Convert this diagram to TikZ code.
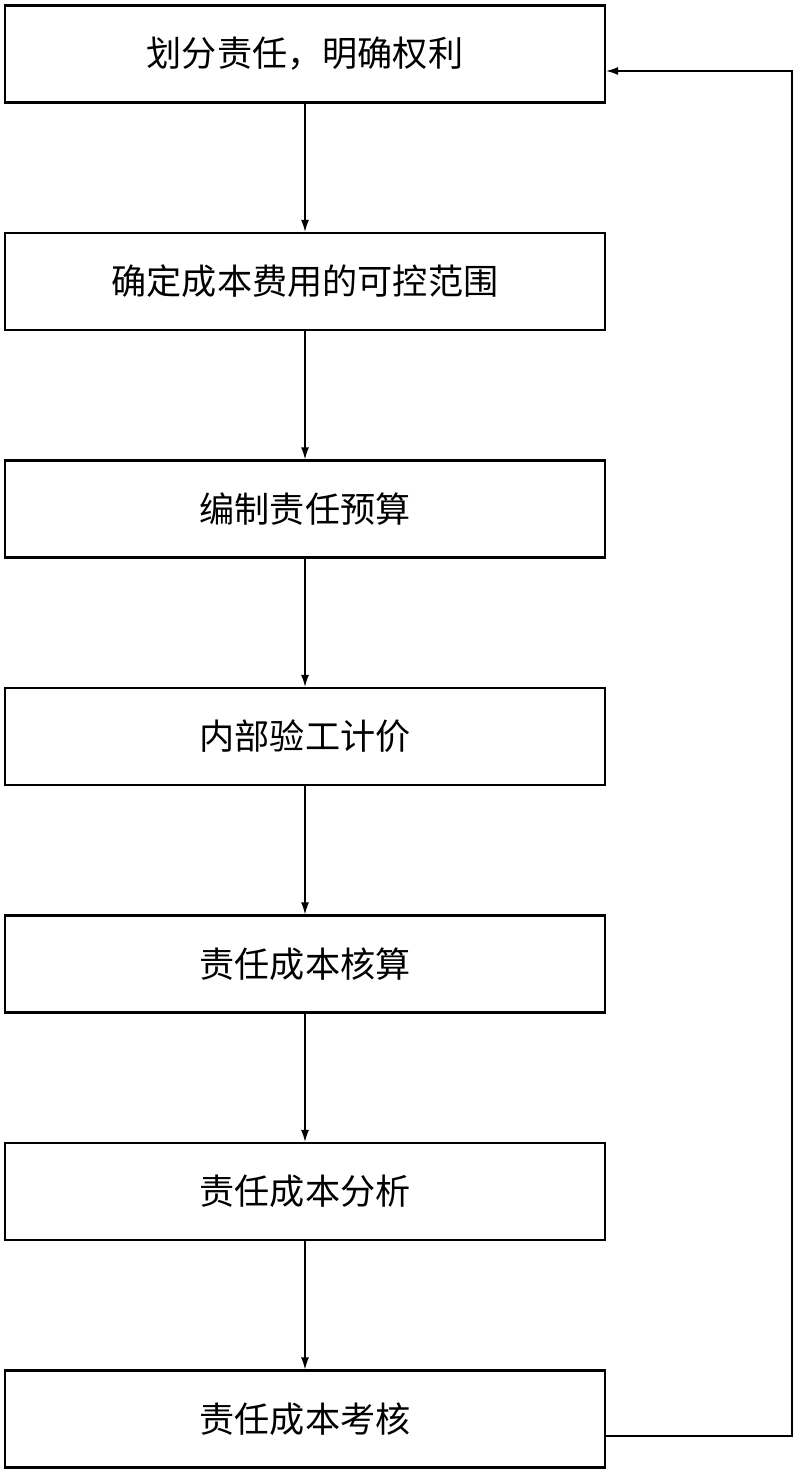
\documentclass[tikz,border=0pt]{standalone}
\usepackage{fontspec}
\newfontfamily\cjk{Noto Sans CJK SC}
\usetikzlibrary{positioning,arrows.meta}

\tikzset{
  stepbox/.style={draw, line width=1.3pt, minimum width=12cm, minimum height=1.94cm,
                  inner sep=0pt, font=\cjk\fontsize{20}{24}\selectfont},
  flow/.style={line width=0.75pt, -{Latex[length=2.4mm,width=1.6mm]}}
}

\begin{document}
\begin{tikzpicture}[node distance=4.55cm, on grid]

  % Frame:
  \useasboundingbox (0,0) rectangle (15.94,-29.48);

  % Steps:
  \node[stepbox] (b1) at (6.1,-1.08) {划分责任，明确权利};
  \node[stepbox, below=of b1] (b2) {确定成本费用的可控范围};
  \node[stepbox, below=of b2] (b3) {编制责任预算};
  \node[stepbox, below=of b3] (b4) {内部验工计价};
  \node[stepbox, below=of b4] (b5) {责任成本核算};
  \node[stepbox, below=of b5] (b6) {责任成本分析};
  \node[stepbox, below=of b6] (b7) {责任成本考核};

  % Arrows down:
  \foreach \a/\b in {b1/b2, b2/b3, b3/b4, b4/b5, b5/b6, b6/b7}
    \draw[flow] (\a.south) -- (\b.north);

  % Feedback:
  \coordinate (fbbot) at (15.84,-28.72);
  \coordinate (fbtop) at (15.84,-1.42);
  \draw[flow] (b7.east |- fbbot) -- (fbbot) -- (fbtop) -- (b1.east |- fbtop);

\end{tikzpicture}
\end{document}
